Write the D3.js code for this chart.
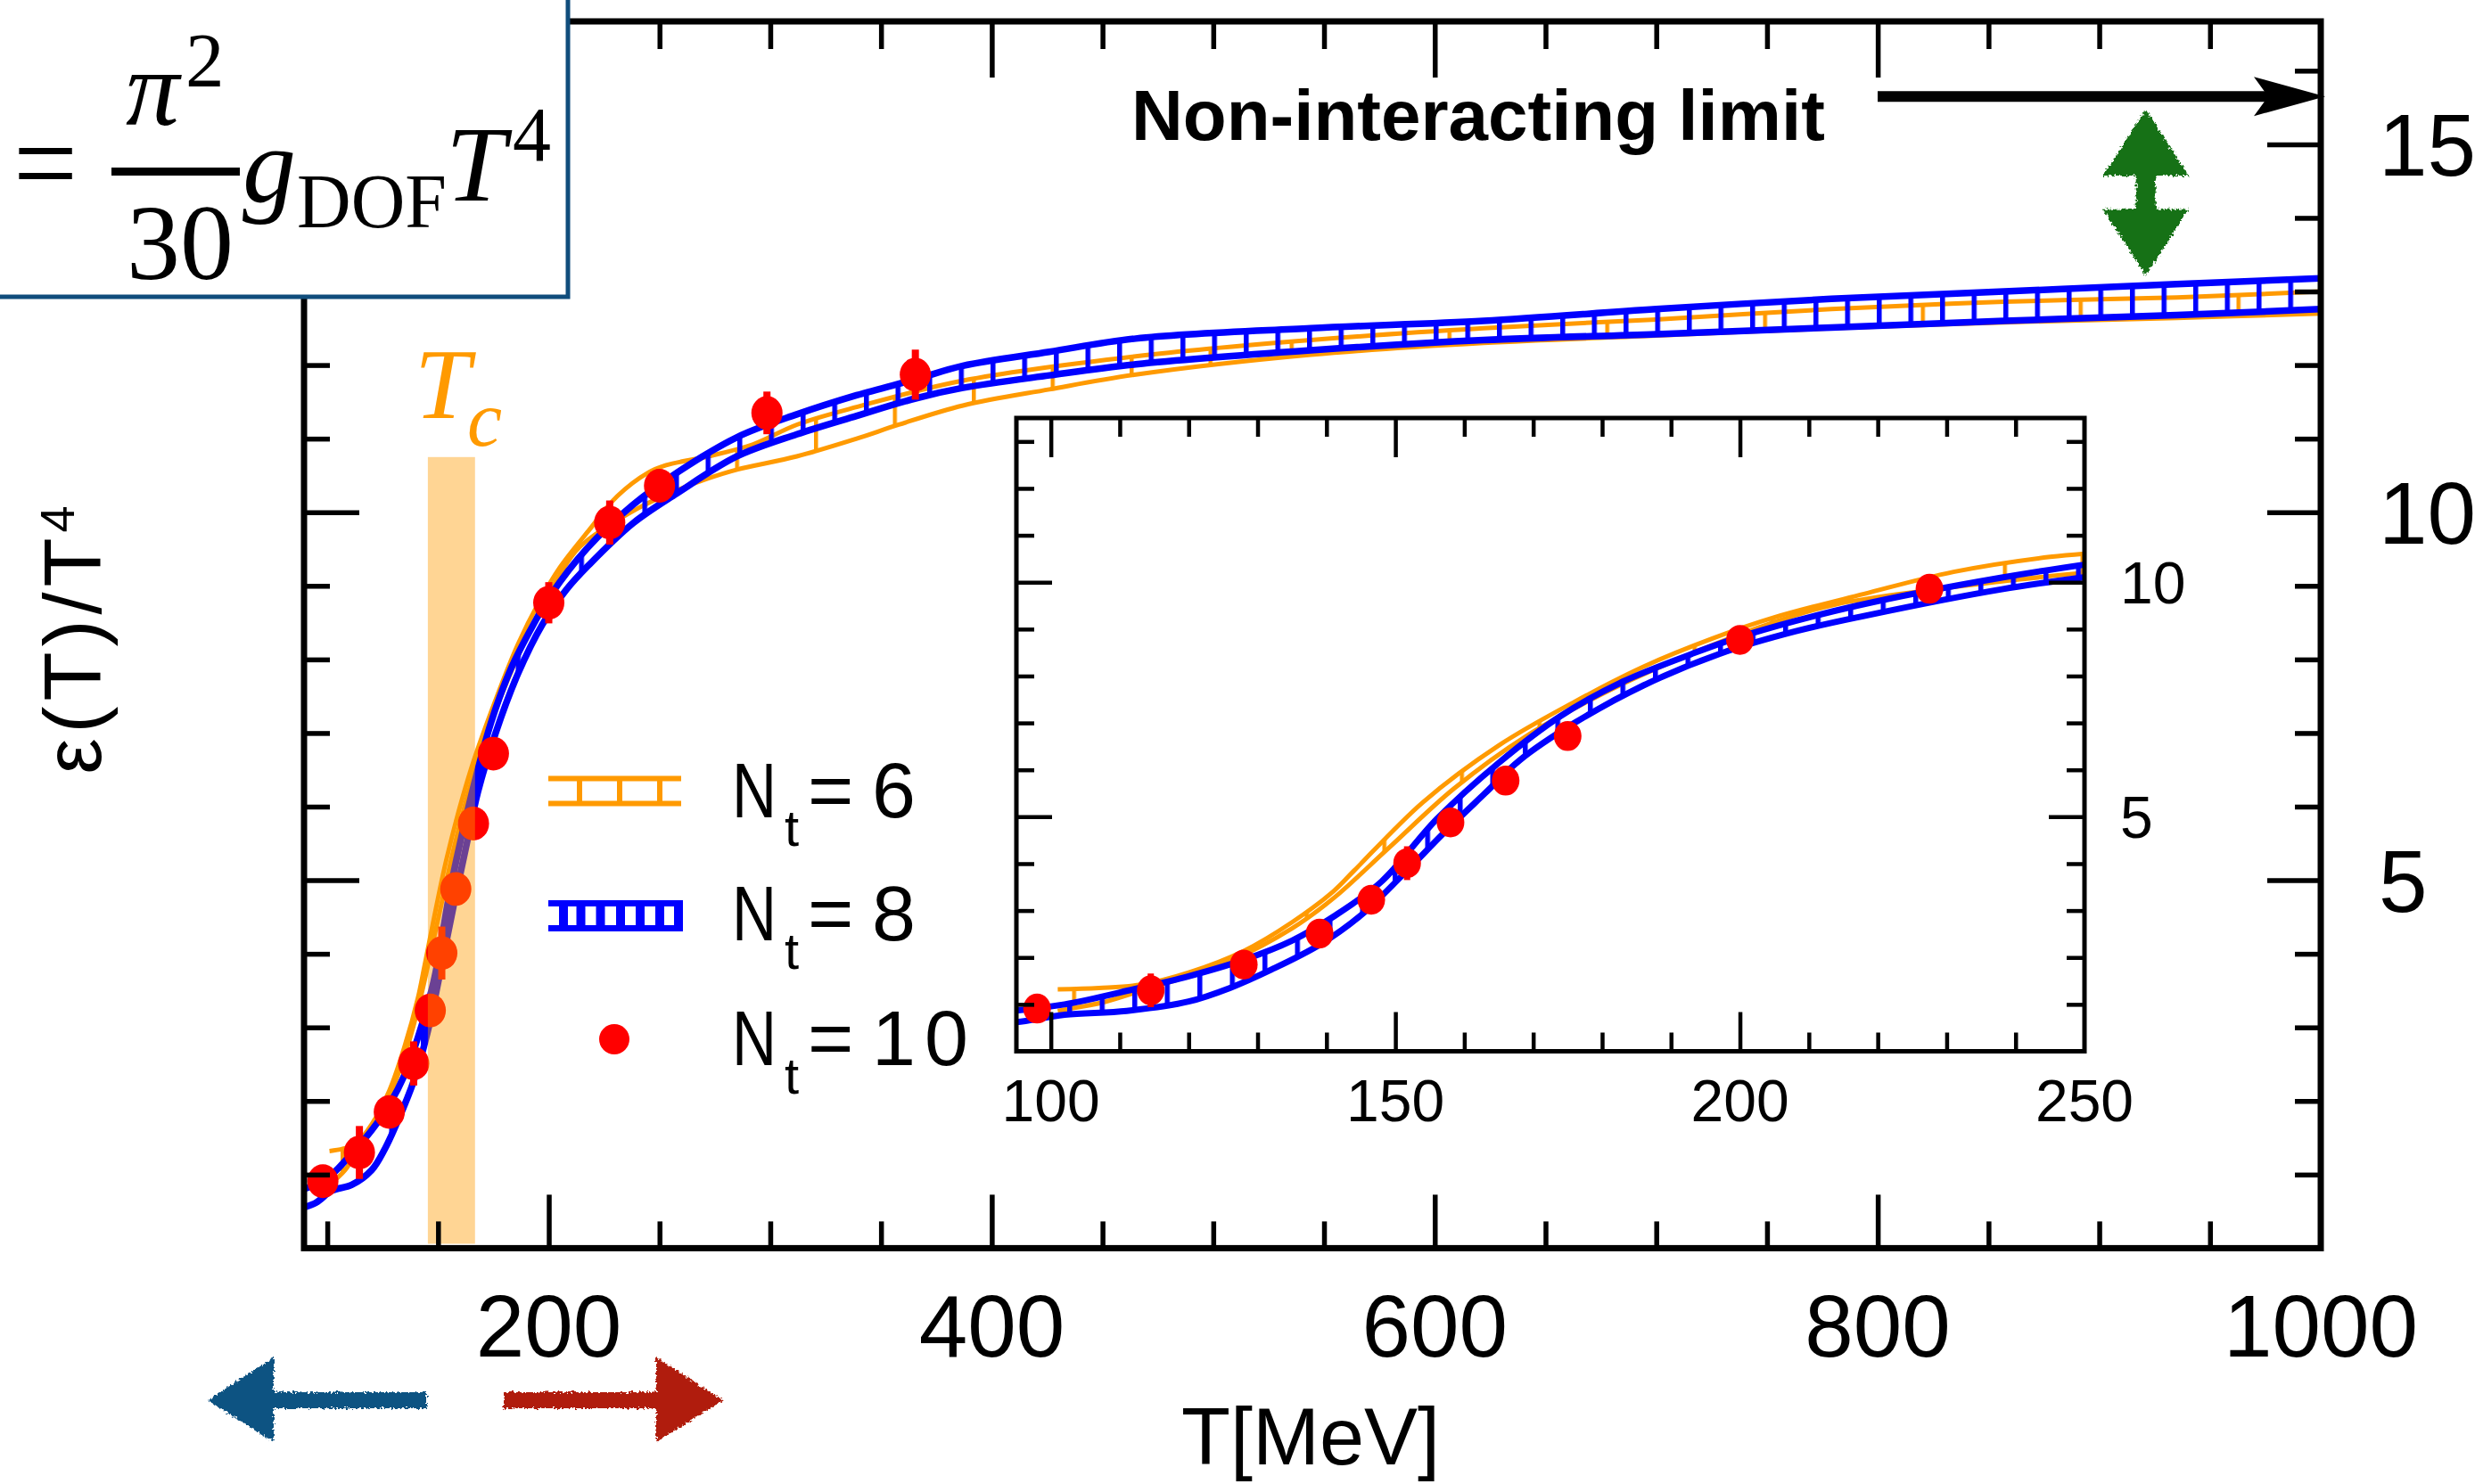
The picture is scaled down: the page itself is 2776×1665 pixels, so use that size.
<!DOCTYPE html>
<html><head><meta charset="utf-8">
<script src="https://cdn.jsdelivr.net/npm/d3@7"></script>
<style>
html,body{margin:0;padding:0;background:#fff;}
svg{display:block;}
</style></head>
<body>
<svg id="chart" width="2776" height="1665"></svg>
<script>
// ---------------- DATA ----------------
// Nt=8 band (blue): upper and lower edge, [T (MeV), eps/T^4]
const nt8Upper = [[89,0.80],[95,0.87],[102,1.0],[112,1.32],[120,1.60],[128,1.95],[135,2.36],[141,2.87],[148,3.62],[156,4.95],[165,6.15],[174,7.15],[183,7.88],[193,8.47],[201,8.88],[217,9.50],[238,10.10],[258,10.54],[285,11.02],[312,11.33],[339,11.59],[366,11.81],[387,11.99],[426,12.18],[465,12.36],[544,12.50],[622,12.60],[700,12.76],[779,12.90],[857,13.00],[935,13.10],[1000,13.18]];
const nt8Lower = [[89,0.55],[95,0.62],[102,0.78],[111,0.86],[120,1.06],[126,1.35],[132,1.74],[139,2.27],[145,2.90],[151,3.75],[157,4.65],[163,5.50],[168,6.20],[176,7.00],[186,7.80],[197,8.47],[208,8.95],[218,9.28],[238,9.85],[258,10.26],[285,10.76],[312,11.06],[339,11.31],[366,11.55],[387,11.69],[426,11.86],[465,12.01],[544,12.20],[622,12.34],[700,12.42],[779,12.51],[857,12.60],[935,12.68],[1000,12.76]];
// Nt=6 band (orange)
const nt6Upper = [[101,1.32],[107,1.35],[113,1.42],[120,1.68],[128,2.14],[135,2.75],[141,3.41],[144,3.85],[154,5.31],[165,6.52],[176,7.45],[186,8.20],[196,8.80],[205,9.25],[218,9.75],[231,10.22],[245,10.54],[253,10.64],[272,10.76],[292,10.92],[312,11.19],[339,11.43],[387,11.79],[465,12.12],[544,12.34],[622,12.50],[700,12.62],[779,12.76],[857,12.86],[935,12.92],[1000,13.00]];
const nt6Lower = [[101,0.86],[104,0.94],[108,1.06],[115,1.38],[120,1.60],[126,1.92],[135,2.62],[141,3.26],[149,4.33],[158.5,5.60],[169,6.72],[181,7.69],[192,8.42],[204,9.10],[214,9.53],[240,10.05],[258,10.30],[272,10.46],[285,10.58],[312,10.76],[339,11.00],[358,11.19],[387,11.45],[426,11.67],[465,11.87],[544,12.14],[622,12.30],[700,12.40],[779,12.50],[857,12.58],[935,12.64],[1000,12.70]];
// Nt=10 points (red)
const nt10T   = [98, 114.5, 128, 139, 146.5, 151.7, 158, 166, 175, 200, 227.5, 250, 298.5, 365.5];
const nt10V   = [0.91, 1.30, 1.85, 2.51, 3.23, 4.01, 4.88, 5.77, 6.72, 8.77, 9.86, 10.36, 11.35, 11.87];
const nt10Err = [0.08, 0.36, 0.08, 0.30, 0.08, 0.36, 0.08, 0.08, 0.08, 0.28, 0.30, 0.22, 0.29, 0.34];
// ticks and labels
const mainXTicks = [200, 400, 600, 800, 1000];
const mainYTicks = [5, 10, 15];
const insetXTicks = [100, 150, 200, 250];
const insetYTicks = [5, 10];
const legendNt = ["6", "8", "10"];
// annotations
const tcRange = [145.4, 166.7];
const tcTop = 10.75;
const nonInteractingLimit = 15.65;
const gdofArrowT = 921;
const gdofArrowV = [13.22, 15.47];

// ---------------- SETUP ----------------
const svg = d3.select("#chart");
const ORANGE = "#ff9a00", BLUE = "#0000ff", RED = "#ff0000";
const SANS = "'Liberation Sans', Arial, Helvetica, sans-serif";
const SERIF = "'Liberation Serif', 'Times New Roman', serif";

const x = d3.scaleLinear().domain([89.5, 1000]).range([341, 2603]);
const y = d3.scaleLinear().domain([0, 16.67]).range([1400.4, 24]);
const xi = d3.scaleLinear().domain([95, 250]).range([1140, 2338]);
const yi = d3.scaleLinear().domain([0, 13.5]).range([1179.5, 469]);

const defs = svg.append("defs");
function clip(id, x0, y0, w, h) {
  defs.append("clipPath").attr("id", id).append("rect").attr("x", x0).attr("y", y0).attr("width", w).attr("height", h);
}
clip("cMain", 341, 24, 2262, 1376.4);
clip("cInset", 1140, 469, 1198, 710.5);
clip("cMainA", 0, 0, x(500), 1665);
clip("cMainB", x(500), 0, 2776 - x(500), 1665);

function pattern(id, period, offset, w, color) {
  const p = defs.append("pattern").attr("id", id).attr("patternUnits", "userSpaceOnUse")
    .attr("x", offset).attr("y", 0).attr("width", period).attr("height", 10);
  p.append("rect").attr("x", 0).attr("y", 0).attr("width", w).attr("height", 10).attr("fill", color);
}
pattern("pBlueMain", 35.5, 1111, 5.5, BLUE);
pattern("pOrMainA", 88.5, 647.5, 4.5, ORANGE);
pattern("pOrMainB", 177, 1446.5, 4.5, ORANGE);
pattern("pBlueIn", 36.5, 1197, 5.5, BLUE);
pattern("pOrIn", 87, 2072.5, 4.5, ORANGE);

const rough = defs.append("filter").attr("id", "rough").attr("x", "-20%").attr("y", "-20%").attr("width", "140%").attr("height", "140%");
rough.append("feTurbulence").attr("type", "fractalNoise").attr("baseFrequency", 0.35).attr("numOctaves", 2).attr("result", "n");
rough.append("feDisplacementMap").attr("in", "SourceGraphic").attr("in2", "n").attr("scale", 7)
  .attr("xChannelSelector", "R").attr("yChannelSelector", "G");

function lineGen(xs, ys) {
  return d3.line().x(d => xs(d[0])).y(d => ys(d[1])).curve(d3.curveCatmullRom.alpha(0.5));
}
function bandPath(upper, lower, xs, ys) {
  const lg = lineGen(xs, ys);
  const a = lg(upper);
  const b = lg(lower.slice().reverse());
  return a + "L" + b.slice(1) + "Z";
}

function drawTicks(g, axisFn, scale, values, size, tx, ty, sw) {
  g.append("g").attr("transform", `translate(${tx},${ty})`)
    .call(axisFn(scale).tickValues(values).tickSize(size).tickSizeOuter(0).tickFormat(""))
    .call(s => s.select(".domain").remove())
    .call(s => s.selectAll("line").attr("stroke", "#000").attr("stroke-width", sw));
}

const dots = nt10T.map((t, i) => ({t: t, v: nt10V[i], e: nt10Err[i]}));

function drawData(g, xs, ys, clipId, pats, r, ew, blueW, orW, dotsSel) {
  const gg = g.append("g").attr("clip-path", `url(#${clipId})`);
  const lgen = lineGen(xs, ys);
  // orange band
  const bp6 = bandPath(nt6Upper, nt6Lower, xs, ys);
  if (pats.orB) {
    gg.append("path").attr("d", bp6).attr("fill", `url(#${pats.orA})`).attr("clip-path", "url(#cMainA)");
    gg.append("path").attr("d", bp6).attr("fill", `url(#${pats.orB})`).attr("clip-path", "url(#cMainB)");
  } else {
    gg.append("path").attr("d", bp6).attr("fill", `url(#${pats.orA})`);
  }
  [nt6Upper, nt6Lower].forEach(s => gg.append("path").attr("d", lgen(s)).attr("fill", "none")
    .attr("stroke", ORANGE).attr("stroke-width", orW).attr("stroke-linejoin", "round"));
  // blue band
  gg.append("path").attr("d", bandPath(nt8Upper, nt8Lower, xs, ys)).attr("fill", `url(#${pats.blue})`);
  [nt8Upper, nt8Lower].forEach(s => gg.append("path").attr("d", lgen(s)).attr("fill", "none")
    .attr("stroke", BLUE).attr("stroke-width", blueW).attr("stroke-linejoin", "round"));
  // red points
  const dg = gg.append("g");
  dg.selectAll("line.err").data(dotsSel).join("line").attr("class", "err")
    .attr("x1", d => xs(d.t)).attr("x2", d => xs(d.t))
    .attr("y1", d => ys(d.v + d.e)).attr("y2", d => ys(d.v - d.e))
    .attr("stroke", RED).attr("stroke-width", ew);
  dg.selectAll("ellipse").data(dotsSel).join("ellipse")
    .attr("cx", d => xs(d.t)).attr("cy", d => ys(d.v)).attr("rx", r).attr("ry", r * 1.08).attr("fill", RED);
}

// ---------------- MAIN PANEL ----------------
const main = svg.append("g");
drawData(main, x, y, "cMain", {blue: "pBlueMain", orA: "pOrMainA", orB: "pOrMainB"}, 17.5, 8, 7.5, 5, dots);

// Tc band (semi-transparent, over the curves)
main.append("rect").attr("x", x(tcRange[0])).attr("width", x(tcRange[1]) - x(tcRange[0]))
  .attr("y", y(tcTop)).attr("height", y(0.06) - y(tcTop))
  .attr("fill", ORANGE).attr("fill-opacity", 0.42);

// main axes ticks
const mainYMinor = d3.range(1, 17).filter(v => !mainYTicks.includes(v));
const mainXMinor = d3.range(100, 1000, 50).filter(v => !mainXTicks.includes(v));
const mainMajorX = [200, 400, 600, 800];
drawTicks(main, d3.axisBottom, x, mainXMinor, -30, 0, 1400.4, 5.5);
drawTicks(main, d3.axisBottom, x, mainMajorX, -60, 0, 1400.4, 5.5);
drawTicks(main, d3.axisTop, x, mainXMinor, -31, 0, 24, 5.5);
drawTicks(main, d3.axisTop, x, mainMajorX, -63, 0, 24, 5.5);
drawTicks(main, d3.axisLeft, y, mainYMinor, -29, 341, 0, 5.5);
drawTicks(main, d3.axisLeft, y, mainYTicks, -62, 341, 0, 5.5);
drawTicks(main, d3.axisRight, y, mainYMinor, -29, 2603, 0, 5.5);
drawTicks(main, d3.axisRight, y, mainYTicks, -60, 2603, 0, 5.5);
main.append("rect").attr("x", 341).attr("y", 24).attr("width", 2603 - 341).attr("height", 1400.4 - 24)
  .attr("fill", "none").attr("stroke", "#000").attr("stroke-width", 7);

// main tick labels
main.selectAll("text.xl").data(mainXTicks).join("text").attr("class", "xl")
  .attr("x", d => x(d)).attr("y", 1522).attr("text-anchor", "middle")
  .attr("font-family", SANS).attr("font-size", 98).text(d => d);
main.selectAll("text.yl").data(mainYTicks).join("text").attr("class", "yl")
  .attr("x", 2668).attr("y", d => y(d)).attr("dy", "0.36em")
  .attr("font-family", SANS).attr("font-size", 98).text(d => d);

// axis titles
svg.append("text").attr("x", 1470).attr("y", 1643).attr("text-anchor", "middle")
  .attr("font-family", SANS).attr("font-size", 90).text("T[MeV]");
const yt = svg.append("text").attr("transform", "translate(113,715) rotate(-90)")
  .attr("text-anchor", "middle").attr("font-family", SANS).attr("font-size", 90)
  .attr("letter-spacing", 6);
yt.append("tspan").text("\u03b5(T)/T");
yt.append("tspan").attr("dy", -30).attr("font-size", 54).text("4");

// ---------------- INSET ----------------
const inset = svg.append("g");
inset.append("rect").attr("x", 1140).attr("y", 469).attr("width", 1198).attr("height", 710.5).attr("fill", "#fff");
drawData(inset, xi, yi, "cInset", {blue: "pBlueIn", orA: "pOrIn"}, 15.5, 7, 7, 5, dots.filter(d => d.t < 248));
const inYMinor = d3.range(1, 14).filter(v => !insetYTicks.includes(v));
const inXMinor = d3.range(110, 250, 10).filter(v => !insetXTicks.includes(v));
const inXMajor = [100, 150, 200];
drawTicks(inset, d3.axisBottom, xi, inXMinor, -21, 0, 1179.5, 4.5);
drawTicks(inset, d3.axisBottom, xi, inXMajor, -44, 0, 1179.5, 4.5);
drawTicks(inset, d3.axisTop, xi, inXMinor, -21, 0, 469, 4.5);
drawTicks(inset, d3.axisTop, xi, inXMajor, -44, 0, 469, 4.5);
drawTicks(inset, d3.axisLeft, yi, inYMinor, -20, 1140, 0, 4.5);
drawTicks(inset, d3.axisLeft, yi, insetYTicks, -40, 1140, 0, 4.5);
drawTicks(inset, d3.axisRight, yi, inYMinor, -20, 2338, 0, 4.5);
drawTicks(inset, d3.axisRight, yi, insetYTicks, -40, 2338, 0, 4.5);
inset.append("rect").attr("x", 1140).attr("y", 469).attr("width", 1198).attr("height", 710.5)
  .attr("fill", "none").attr("stroke", "#000").attr("stroke-width", 5);
inset.selectAll("text.xl").data(insetXTicks).join("text").attr("class", "xl")
  .attr("x", d => xi(d)).attr("y", 1258).attr("text-anchor", "middle")
  .attr("font-family", SANS).attr("font-size", 66).text(d => d);
inset.selectAll("text.yl").data(insetYTicks).join("text").attr("class", "yl")
  .attr("x", 2378).attr("y", d => yi(d)).attr("dy", "0.36em")
  .attr("font-family", SANS).attr("font-size", 66).text(d => d);

// ---------------- LEGEND ----------------
const leg = svg.append("g");
// Nt=6 symbol
[873.5, 901.5].forEach(yy => leg.append("line").attr("x1", 615).attr("x2", 764).attr("y1", yy).attr("y2", yy)
  .attr("stroke", ORANGE).attr("stroke-width", 6));
[650, 695, 740].forEach(xx => leg.append("line").attr("x1", xx).attr("x2", xx).attr("y1", 873.5).attr("y2", 901.5)
  .attr("stroke", ORANGE).attr("stroke-width", 6));
// Nt=8 symbol
[1013.5, 1041.5].forEach(yy => leg.append("line").attr("x1", 615).attr("x2", 766).attr("y1", yy).attr("y2", yy)
  .attr("stroke", BLUE).attr("stroke-width", 7));
[632, 651.5, 673.5, 696, 718, 740, 761].forEach(xx => leg.append("line").attr("x1", xx).attr("x2", xx)
  .attr("y1", 1013.5).attr("y2", 1041.5).attr("stroke", BLUE).attr("stroke-width", 10));
// Nt=10 symbol
leg.append("circle").attr("cx", 689).attr("cy", 1166).attr("r", 17).attr("fill", RED);
const legBase = [917, 1055, 1195];
legendNt.forEach((lab, i) => {
  const b = legBase[i];
  leg.append("text").attr("x", 821).attr("y", b).attr("font-family", SANS).attr("font-size", 88)
    .attr("textLength", 50).attr("lengthAdjust", "spacingAndGlyphs").text("N");
  leg.append("text").attr("x", 880).attr("y", b + 32).attr("font-family", SANS).attr("font-size", 58).text("t");
  leg.append("text").attr("x", 906).attr("y", b).attr("font-family", SANS).attr("font-size", 88).text("=");
  leg.append("text").attr("x", 978).attr("y", b).attr("font-family", SANS).attr("font-size", 88)
    .attr("letter-spacing", 10).text(lab);
});

// ---------------- ANNOTATIONS ----------------
// Tc label
svg.append("text").attr("x", 465).attr("y", 469).attr("font-family", SERIF).attr("font-style", "italic")
  .attr("font-size", 112).attr("fill", ORANGE).text("T");
svg.append("text").attr("x", 524).attr("y", 500).attr("font-family", SERIF).attr("font-style", "italic")
  .attr("font-size", 88).attr("fill", ORANGE).text("c");

// Non-interacting limit
svg.append("text").attr("x", 1269).attr("y", 157).attr("font-family", SANS).attr("font-weight", "bold")
  .attr("font-size", 80).text("Non-interacting limit");
const ay = y(nonInteractingLimit);
svg.append("line").attr("x1", 2106).attr("x2", 2550).attr("y1", ay).attr("y2", ay)
  .attr("stroke", "#000").attr("stroke-width", 12);
svg.append("path").attr("d", `M${x(1000) + 5},${ay} L2528,${ay - 22} L2544,${ay} L2528,${ay + 22} Z`).attr("fill", "#000");

// green double arrow (g_DOF gap)
{
  const gx = x(gdofArrowT), yb = y(gdofArrowV[0]), yt2 = y(gdofArrowV[1]);
  const hw = 48, hh = 74, sw = 11;
  const d = `M${gx},${yt2} L${gx + hw},${yt2 + hh} L${gx + sw},${yt2 + hh} L${gx + sw},${yb - hh} L${gx + hw},${yb - hh}
    L${gx},${yb} L${gx - hw},${yb - hh} L${gx - sw},${yb - hh} L${gx - sw},${yt2 + hh} L${gx - hw},${yt2 + hh} Z`;
  svg.append("path").attr("d", d).attr("fill", "#167116").attr("filter", "url(#rough)");
}

// bottom arrows (hadronic <- | -> QGP)
svg.append("path").attr("d", "M233,1571 L307,1523 L307,1562 L479,1562 L479,1580 L307,1580 L307,1618 Z")
  .attr("fill", "#0e5282").attr("filter", "url(#rough)");
svg.append("path").attr("d", "M811,1571 L736,1523 L736,1562 L565,1562 L565,1580 L736,1580 L736,1618 Z")
  .attr("fill", "#b01c08").attr("filter", "url(#rough)");

// ---------------- FORMULA BOX ----------------
const fb = svg.append("g");
fb.append("rect").attr("x", -10).attr("y", -10).attr("width", 647).attr("height", 343)
  .attr("fill", "#fff").attr("stroke", "#104d7c").attr("stroke-width", 5);
fb.append("text").attr("x", 15).attr("y", 230).attr("font-family", SERIF).attr("font-size", 140)
  .attr("textLength", 72).attr("lengthAdjust", "spacingAndGlyphs").text("=");
fb.append("line").attr("x1", 125).attr("x2", 269).attr("y1", 192.5).attr("y2", 192.5).attr("stroke", "#000").attr("stroke-width", 9);
fb.append("text").attr("x", 141).attr("y", 140).attr("font-family", SERIF).attr("font-style", "italic").attr("font-size", 120).text("\u03c0");
fb.append("text").attr("x", 208).attr("y", 97).attr("font-family", SERIF).attr("font-size", 87).text("2");
fb.append("text").attr("x", 142).attr("y", 313).attr("font-family", SERIF).attr("font-size", 120).text("30");
fb.append("text").attr("x", 272).attr("y", 226).attr("font-family", SERIF).attr("font-style", "italic").attr("font-size", 120).text("g");
fb.append("text").attr("x", 333).attr("y", 255).attr("font-family", SERIF).attr("font-size", 87)
  .attr("textLength", 168).attr("lengthAdjust", "spacingAndGlyphs").text("DOF");
fb.append("text").attr("x", 500).attr("y", 225).attr("font-family", SERIF).attr("font-style", "italic").attr("font-size", 121).text("T");
fb.append("text").attr("x", 575).attr("y", 180).attr("font-family", SERIF).attr("font-size", 86).text("4");
</script>
</body></html>
